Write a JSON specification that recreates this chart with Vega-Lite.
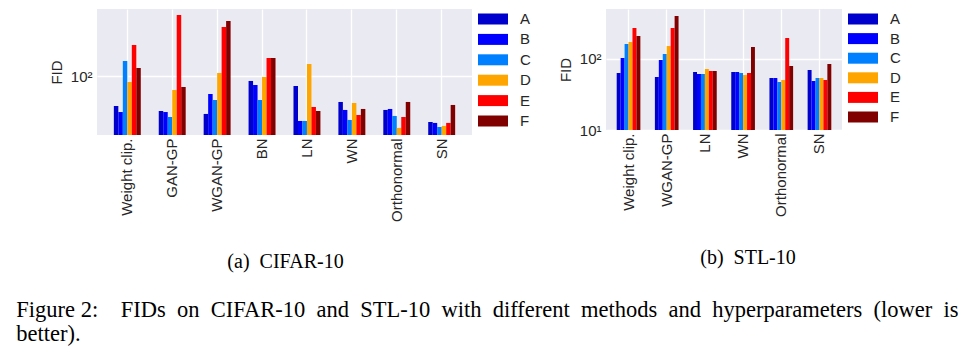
{
  "$schema": "https://vega.github.io/schema/vega-lite/v6.json",
  "background": "white",
  "padding": {"left": 16, "top": 9, "right": 0, "bottom": 0},
  "config": {
    "view": {"stroke": null, "fill": "#EAEAF2"},
    "font": "Liberation Sans",
    "axis": {"domain": false, "ticks": false, "gridColor": "white", "gridWidth": 1.3, "labelFont": "Liberation Sans", "labelFontSize": 15, "labelColor": "#262626", "titleFont": "Liberation Sans", "titleFontSize": 15, "titleFontWeight": "normal", "titleColor": "#262626"},
    "legend": {"orient": "right", "offset": 11, "padding": 0, "symbolType": "M-1.5,-0.55H1.5V0.55H-1.5Z", "symbolSize": 400, "symbolStrokeWidth": 0, "symbolOpacity": 1, "labelFont": "Liberation Sans", "labelFontSize": 15, "labelColor": "#262626", "labelOffset": 17, "rowPadding": 2.4},
    "concat": {"spacing": 27}
  },
  "datasets": {
    "cifar": [
      {"method": "Weight clip.", "setting": "A", "fid": 40.2},
      {"method": "Weight clip.", "setting": "B", "fid": 33.4},
      {"method": "Weight clip.", "setting": "C", "fid": 160.1},
      {"method": "Weight clip.", "setting": "D", "fid": 84.0},
      {"method": "Weight clip.", "setting": "E", "fid": 261.6},
      {"method": "Weight clip.", "setting": "F", "fid": 129.2},
      {"method": "GAN-GP", "setting": "A", "fid": 34.5},
      {"method": "GAN-GP", "setting": "B", "fid": 33.4},
      {"method": "GAN-GP", "setting": "C", "fid": 28.7},
      {"method": "GAN-GP", "setting": "D", "fid": 65.7},
      {"method": "GAN-GP", "setting": "E", "fid": 657},
      {"method": "GAN-GP", "setting": "F", "fid": 72.1},
      {"method": "WGAN-GP", "setting": "A", "fid": 31.5},
      {"method": "WGAN-GP", "setting": "B", "fid": 58.1},
      {"method": "WGAN-GP", "setting": "C", "fid": 48.3},
      {"method": "WGAN-GP", "setting": "D", "fid": 110.8},
      {"method": "WGAN-GP", "setting": "E", "fid": 454.8},
      {"method": "WGAN-GP", "setting": "F", "fid": 546.7},
      {"method": "BN", "setting": "A", "fid": 86.7},
      {"method": "BN", "setting": "B", "fid": 76.6},
      {"method": "BN", "setting": "C", "fid": 48.3},
      {"method": "BN", "setting": "D", "fid": 98.0},
      {"method": "BN", "setting": "E", "fid": 175.6},
      {"method": "BN", "setting": "F", "fid": 175.6},
      {"method": "LN", "setting": "A", "fid": 74.3},
      {"method": "LN", "setting": "B", "fid": 25.4},
      {"method": "LN", "setting": "C", "fid": 25.4},
      {"method": "LN", "setting": "D", "fid": 146.0},
      {"method": "LN", "setting": "E", "fid": 39.0},
      {"method": "LN", "setting": "F", "fid": 34.5},
      {"method": "WN", "setting": "A", "fid": 45.5},
      {"method": "WN", "setting": "B", "fid": 35.6},
      {"method": "WN", "setting": "C", "fid": 26.2},
      {"method": "WN", "setting": "D", "fid": 44.1},
      {"method": "WN", "setting": "E", "fid": 30.5},
      {"method": "WN", "setting": "F", "fid": 36.7},
      {"method": "Orthonormal", "setting": "A", "fid": 35.6},
      {"method": "Orthonormal", "setting": "B", "fid": 36.7},
      {"method": "Orthonormal", "setting": "C", "fid": 29.6},
      {"method": "Orthonormal", "setting": "D", "fid": 20.5},
      {"method": "Orthonormal", "setting": "E", "fid": 28.7},
      {"method": "Orthonormal", "setting": "F", "fid": 45.5},
      {"method": "SN", "setting": "A", "fid": 24.6},
      {"method": "SN", "setting": "B", "fid": 23.9},
      {"method": "SN", "setting": "C", "fid": 21.1},
      {"method": "SN", "setting": "D", "fid": 21.8},
      {"method": "SN", "setting": "E", "fid": 23.9},
      {"method": "SN", "setting": "F", "fid": 41.5}
    ],
    "stl": [
      {"method": "Weight clip.", "setting": "A", "fid": 63.5},
      {"method": "Weight clip.", "setting": "B", "fid": 103.3},
      {"method": "Weight clip.", "setting": "C", "fid": 162.7},
      {"method": "Weight clip.", "setting": "D", "fid": 173.5},
      {"method": "Weight clip.", "setting": "E", "fid": 273.3},
      {"method": "Weight clip.", "setting": "F", "fid": 210.8},
      {"method": "WGAN-GP", "setting": "A", "fid": 55.8},
      {"method": "WGAN-GP", "setting": "B", "fid": 96.8},
      {"method": "WGAN-GP", "setting": "C", "fid": 117.6},
      {"method": "WGAN-GP", "setting": "D", "fid": 152.4},
      {"method": "WGAN-GP", "setting": "E", "fid": 273.3},
      {"method": "WGAN-GP", "setting": "F", "fid": 403.3},
      {"method": "LN", "setting": "A", "fid": 65.6},
      {"method": "LN", "setting": "B", "fid": 61.5},
      {"method": "LN", "setting": "C", "fid": 61.5},
      {"method": "LN", "setting": "D", "fid": 72.3},
      {"method": "LN", "setting": "E", "fid": 67.8},
      {"method": "LN", "setting": "F", "fid": 67.8},
      {"method": "WN", "setting": "A", "fid": 65.6},
      {"method": "WN", "setting": "B", "fid": 65.6},
      {"method": "WN", "setting": "C", "fid": 63.5},
      {"method": "WN", "setting": "D", "fid": 59.5},
      {"method": "WN", "setting": "E", "fid": 63.5},
      {"method": "WN", "setting": "F", "fid": 147.6},
      {"method": "Orthonormal", "setting": "A", "fid": 54.0},
      {"method": "Orthonormal", "setting": "B", "fid": 54.0},
      {"method": "Orthonormal", "setting": "C", "fid": 47.4},
      {"method": "Orthonormal", "setting": "D", "fid": 50.6},
      {"method": "Orthonormal", "setting": "E", "fid": 197.6},
      {"method": "Orthonormal", "setting": "F", "fid": 79.7},
      {"method": "SN", "setting": "A", "fid": 70.0},
      {"method": "SN", "setting": "B", "fid": 49.0},
      {"method": "SN", "setting": "C", "fid": 54.0},
      {"method": "SN", "setting": "D", "fid": 54.0},
      {"method": "SN", "setting": "E", "fid": 50.6},
      {"method": "SN", "setting": "F", "fid": 85.0}
    ]
  },
  "hconcat": [
    {
      "data": {"name": "cifar"},
      "width": 375,
      "height": 126,
      "title": {"text": "(a)\u2002CIFAR-10", "orient": "bottom", "font": "Liberation Serif", "fontSize": 20, "fontWeight": "normal", "color": "black", "offset": 31, "dx": 1},
      "mark": {"type": "bar"},
      "encoding": {
        "x": {"field": "method", "type": "nominal", "sort": ["Weight clip.", "GAN-GP", "WGAN-GP", "BN", "LN", "WN", "Orthonormal", "SN"], "scale": {"paddingInner": 0.4, "paddingOuter": 0.375}, "axis": {"title": null, "labelAngle": -90, "labelPadding": 3, "grid": true}},
        "xOffset": {"field": "setting", "type": "nominal", "sort": ["A", "B", "C", "D", "E", "F"], "scale": {"paddingInner": 0, "paddingOuter": 0}},
        "y": {"field": "fid", "type": "quantitative", "stack": null, "scale": {"type": "log", "domain": [16.5, 790], "nice": false}, "axis": {"title": "FID", "values": [100], "labelExpr": "'10²'", "titlePadding": 6, "labelPadding": 5, "grid": true}},
        "y2": {"datum": 16.5},
        "color": {"field": "setting", "type": "nominal", "scale": {"domain": ["A", "B", "C", "D", "E", "F"], "range": ["#0000CD", "#0000FF", "#0080FF", "#FFA500", "#FF0000", "#800000"]}, "legend": {"title": null}}
      }
    },
    {
      "data": {"name": "stl"},
      "width": 236,
      "height": 121,
      "title": {"text": "(b)\u2002STL-10", "orient": "bottom", "font": "Liberation Serif", "fontSize": 20, "fontWeight": "normal", "color": "black", "offset": 32, "dx": 24},
      "mark": {"type": "bar"},
      "encoding": {
        "x": {"field": "method", "type": "nominal", "sort": ["Weight clip.", "WGAN-GP", "LN", "WN", "Orthonormal", "SN"], "scale": {"paddingInner": 0.38, "paddingOuter": 0.28}, "axis": {"title": null, "labelAngle": -90, "labelPadding": 3, "grid": true}},
        "xOffset": {"field": "setting", "type": "nominal", "sort": ["A", "B", "C", "D", "E", "F"], "scale": {"paddingInner": 0, "paddingOuter": 0}},
        "y": {"field": "fid", "type": "quantitative", "stack": null, "scale": {"type": "log", "domain": [10, 506], "nice": false}, "axis": {"title": "FID", "values": [10, 100], "labelExpr": "datum.value == 10 ? '10¹' : '10²'", "titlePadding": 6, "labelPadding": 5, "grid": true}},
        "y2": {"datum": 10},
        "color": {"field": "setting", "type": "nominal", "scale": {"domain": ["A", "B", "C", "D", "E", "F"], "range": ["#0000CD", "#0000FF", "#0080FF", "#FFA500", "#FF0000", "#800000"]}, "legend": {"title": null, "rowPadding": 1.6}}
      }
    }
  ],
  "resolve": {"scale": {"color": "independent", "y": "independent", "x": "independent", "xOffset": "independent"}},
  "title": {"text": ["Figure 2:\u2003FIDs\u2002on\u2002CIFAR-10\u2002and\u2002STL-10\u2002with\u2002different\u2002methods\u2002and\u2002hyperparameters\u2002(lower\u2002is", "better)."], "orient": "bottom", "anchor": "start", "frame": "bounds", "font": "Liberation Serif", "fontSize": 22.5, "fontWeight": "normal", "color": "black", "lineHeight": 24, "offset": 27, "dx": -33}
}
